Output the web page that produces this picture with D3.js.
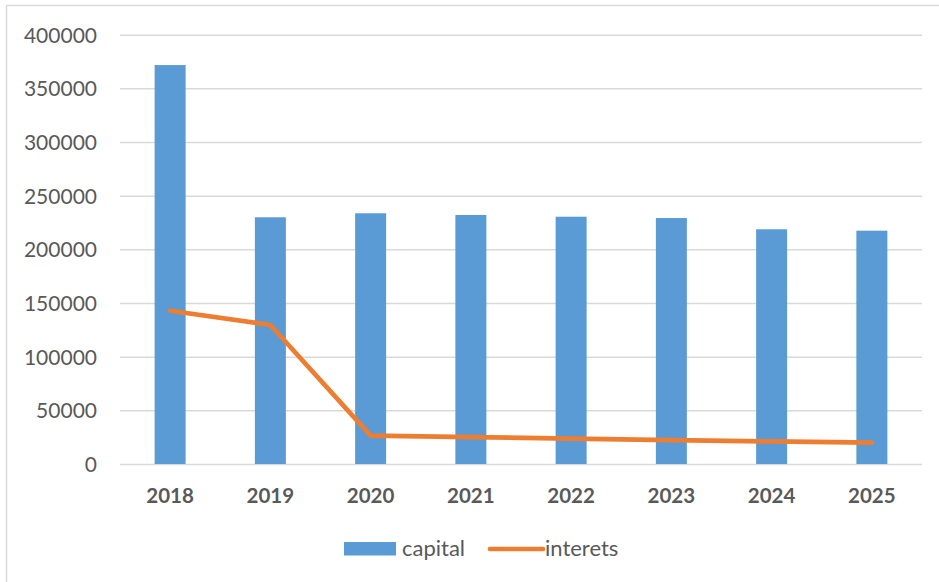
<!DOCTYPE html>
<html>
<head>
<meta charset="utf-8">
<script src="https://cdn.jsdelivr.net/npm/d3@7"></script>
<style>
  html, body { margin: 0; padding: 0; background: #fff; }
  svg { display: block; }
</style>
</head>
<body>
<svg id="chart" width="939" height="582"></svg>
<script>
const categories = ["2018", "2019", "2020", "2021", "2022", "2023", "2024", "2025"];
const capital = [371700, 229900, 233600, 232000, 230400, 229200, 218700, 217400];
const interets = [142800, 129500, 26400, 25000, 23700, 22300, 21000, 19900];
const yTicks = [0, 50000, 100000, 150000, 200000, 250000, 300000, 350000, 400000];
const seriesNames = ["capital", "interets"];

const W = 939, H = 582;
const margin = { left: 120, right: 17, top: 34.7, bottom: 118 };
const svg = d3.select("#chart");
const font = "Lato, 'Open Sans', sans-serif";

// chart border
svg.append("rect")
  .attr("x", 6.5).attr("y", 5.5)
  .attr("width", W + 10).attr("height", H + 10)
  .attr("fill", "none").attr("stroke", "#D9D9D9").attr("stroke-width", 1.5);

const xc = d3.scaleBand().domain(categories).range([margin.left, W - margin.right]);
const y = d3.scaleLinear().domain([0, 400000]).range([H - margin.bottom, margin.top]);

// gridlines
const yAxis = d3.axisLeft(y).tickValues(yTicks).tickSize(-(W - margin.right - margin.left)).tickPadding(23).tickFormat(d3.format("d"));
const gy = svg.append("g").attr("transform", `translate(${margin.left},0)`).call(yAxis);
gy.select(".domain").remove();
gy.selectAll(".tick line").attr("stroke", "#D9D9D9").attr("stroke-width", 1.5);
gy.selectAll(".tick text").attr("fill", "#595959").attr("font-family", font).attr("font-size", 21).attr("dy", "0.35em");

// bars
svg.append("g").selectAll("rect").data(categories).join("rect")
  .attr("x", d => xc(d) + xc.bandwidth() / 2 - 15.5)
  .attr("width", 31)
  .attr("y", (d, i) => y(capital[i]))
  .attr("height", (d, i) => y(0) - y(capital[i]))
  .attr("fill", "#5B9BD5");

// line
const line = d3.line().x((d, i) => xc(categories[i]) + xc.bandwidth() / 2).y(d => y(d));
svg.append("path").datum(interets)
  .attr("d", line)
  .attr("fill", "none").attr("stroke", "#ED7D31").attr("stroke-width", 4.7)
  .attr("stroke-linecap", "round").attr("stroke-linejoin", "round");

// x axis labels
const xAxis = d3.axisBottom(xc).tickSize(0).tickPadding(24);
const gx = svg.append("g").attr("transform", `translate(0,${y(0)})`).call(xAxis);
gx.select(".domain").remove();
gx.selectAll(".tick text").attr("fill", "#595959").attr("font-family", font).attr("font-size", 20.5).attr("font-weight", "bold");

// legend
const lg = svg.append("g");
lg.append("rect").attr("x", 344).attr("y", 542).attr("width", 52).attr("height", 13.5).attr("fill", "#5B9BD5");
lg.append("text").attr("x", 402).attr("y", 556).text(seriesNames[0])
  .attr("fill", "#595959").attr("font-family", font).attr("font-size", 22);
lg.append("line").attr("x1", 490).attr("x2", 543).attr("y1", 549).attr("y2", 549)
  .attr("stroke", "#ED7D31").attr("stroke-width", 4.7).attr("stroke-linecap", "round");
lg.append("text").attr("x", 545).attr("y", 556).text(seriesNames[1])
  .attr("fill", "#595959").attr("font-family", font).attr("font-size", 22);
</script>
</body>
</html>
